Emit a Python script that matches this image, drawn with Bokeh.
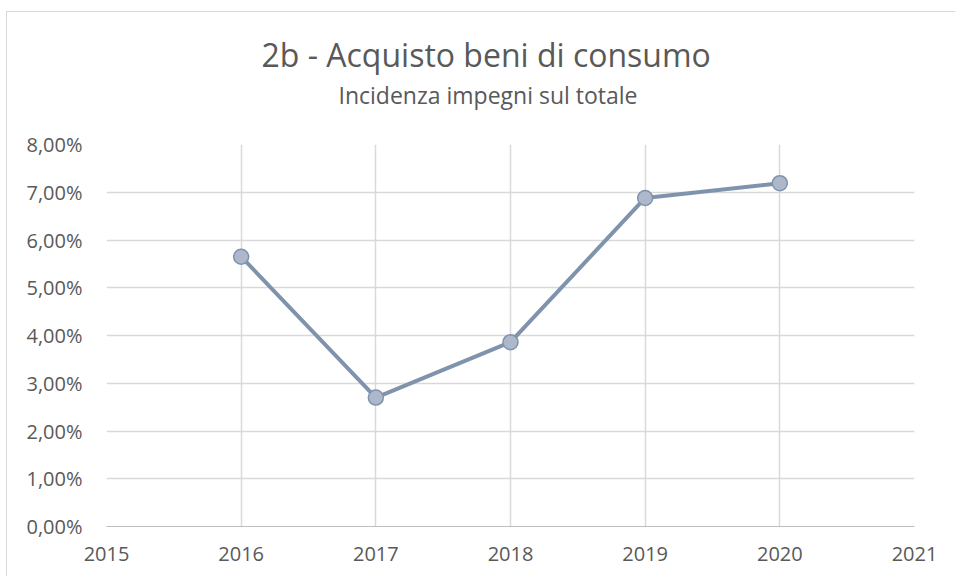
from bokeh.plotting import figure
from bokeh.models import Title, FixedTicker, CustomJSTickFormatter, Range1d
from bokeh.embed import file_html
from bokeh.resources import INLINE

years = [2016, 2017, 2018, 2019, 2020]
values = [0.0565, 0.0270, 0.0386, 0.0688, 0.0719]
x_ticks = [2015, 2016, 2017, 2018, 2019, 2020, 2021]
y_ticks = [0.0, 0.01, 0.02, 0.03, 0.04, 0.05, 0.06, 0.07, 0.08]

TEXT = "#595959"
FONT = "Open Sans"

p = figure(width=949, height=565, output_backend="svg", toolbar_location=None,
           x_range=Range1d(2015, 2021), y_range=Range1d(0, 0.08),
           min_border_left=99, min_border_right=42, min_border_bottom=51, min_border_top=132)
p.title = None
p.styles = {"border-top": "1px solid #d9d9d9", "border-left": "1px solid #d9d9d9",
            "margin-top": "11px", "margin-left": "6px"}

sub = Title(text="Incidenza impegni sul totale", align="left", text_font=FONT,
            text_font_size="23px", text_font_style="normal", text_color=TEXT,
            standoff=68, offset=232)
main = Title(text="2b - Acquisto beni di consumo", align="left", text_font=FONT,
             text_font_size="32px", text_font_style="normal", text_color=TEXT,
             standoff=-66, offset=155)
p.add_layout(sub, "above")
p.add_layout(main, "above")

p.outline_line_color = None
p.background_fill_color = "white"
p.border_fill_color = "white"

for ax in (p.xaxis[0], p.yaxis[0]):
    ax.major_tick_line_color = None
    ax.minor_tick_line_color = None
    ax.major_label_text_font = FONT
    ax.major_label_text_font_size = "20px"
    ax.major_label_text_color = TEXT
p.yaxis[0].axis_line_color = None
p.xaxis[0].axis_line_color = "#bfbfbf"
p.xaxis[0].axis_line_width = 1
p.xaxis[0].ticker = FixedTicker(ticks=x_ticks)
p.yaxis[0].ticker = FixedTicker(ticks=y_ticks)
p.xaxis[0].major_label_standoff = 14
p.yaxis[0].major_label_standoff = 18
p.yaxis[0].formatter = CustomJSTickFormatter(code="return (tick*100).toFixed(2).replace('.', ',') + '%';")

p.xgrid[0].ticker = FixedTicker(ticks=x_ticks)
p.ygrid[0].ticker = FixedTicker(ticks=y_ticks)
p.xgrid.grid_line_color = "#d9d9d9"
p.ygrid.grid_line_color = "#d9d9d9"
p.xgrid.grid_line_width = 1.5
p.ygrid.grid_line_width = 1.5

p.line(years, values, line_color="#7f93ad", line_width=4)
p.scatter(years, values, size=15, fill_color="#adb9ca", line_color="#7f93ad", line_width=1.5)

open("out.html", "w").write(file_html(p, INLINE))
